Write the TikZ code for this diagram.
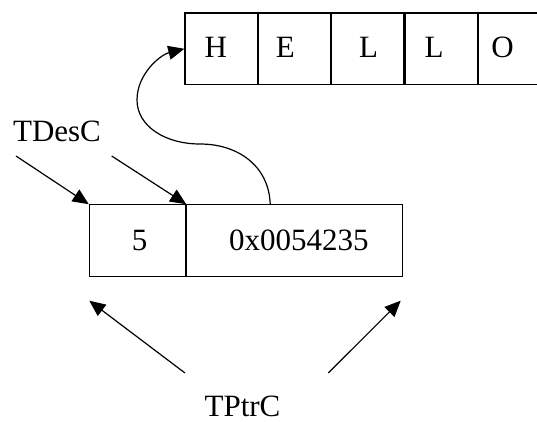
\documentclass[tikz,border=0pt]{standalone}
\usepackage{fontspec}
\setmainfont{Liberation Serif}
\usetikzlibrary{arrows.meta}
\begin{document}
\begin{tikzpicture}[x=1pt,y=-1pt,
  cellbox/.style={draw,line width=1.2pt,inner sep=0pt,anchor=north west,minimum height=71.7pt},
  hcell/.style={draw,line width=1.2pt,inner sep=0pt,anchor=north west,minimum width=72.2pt,minimum height=71.7pt},
  lbl/.style={inner sep=0pt,anchor=base,font=\fontsize{31}{37}\selectfont},
  arr/.style={line width=1.2pt,-{Triangle[length=16pt,width=14pt]}}]
\useasboundingbox (0,0) rectangle (537,421);
% HELLO cells
\node[hcell] (h1) at (184.3,12.3) {};
\node[hcell] (h2) at (h1.north east) {};
\node[hcell] (h3) at (h2.north east) {};
\node[hcell] (h4) at (h3.north east) {};
\node[hcell] (h5) at (h4.north east) {};
\node[lbl] (tH) at (215.8,57) {H};
\node[lbl] (tE) at (285.3,57) {E};
\node[lbl] (tL1) at (368.7,57) {L};
\node[lbl] (tL2) at (434,57) {L};
\node[lbl] (tO) at (502.5,57) {O};
% descriptor cells
\node[cellbox,minimum width=96.3pt] (c1) at (88.7,204.2) {};
\node[cellbox,minimum width=216pt] (c2) at (c1.north east) {};
\node[lbl] (t5) at (139.7,250) {5};
\node[lbl] (tp) at (298.8,250) {0x0054235};
% labels
\node[lbl] (tdesc) at (57,141.7) {TDesC};
\node[lbl] (tptrc) at (242.5,416.5) {TPtrC};
% arrows
\coordinate (d1) at (16,156);
\coordinate (d2) at (111.7,156);
\draw[arr] (d1) -- (c1.north west);
\draw[arr] (d2) -- (c2.north west);
\coordinate (p1) at (185,373);
\coordinate (p2) at (328.3,373);
\coordinate (q1) at (89.3,300.7);
\coordinate (q2) at (400.7,300.7);
\draw[arr] (p1) -- (q1);
\draw[arr] (p2) -- (q2);
% pointer curve
\coordinate (ps) at ([xshift=84pt]c2.north west);
\draw[arr] (ps) .. controls (269,166) and (238,144) .. (200,144)
  .. controls (165,144) and (137,126) .. (137,100)
  .. controls (137,74) and (160,55) .. (h1.west);
\end{tikzpicture}
\end{document}
